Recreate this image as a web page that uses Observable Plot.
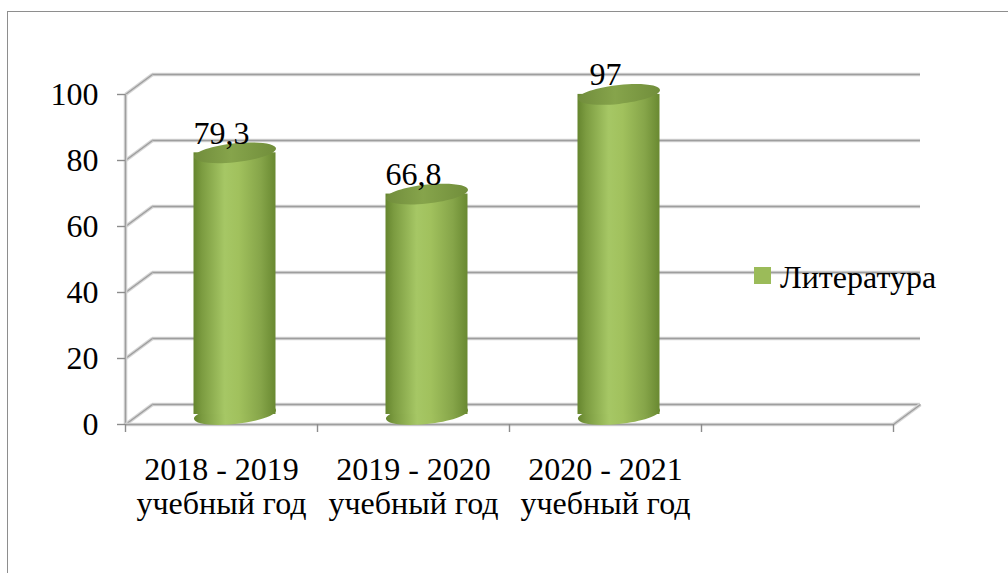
<!DOCTYPE html>
<html>
<head>
<meta charset="utf-8">
<script src="https://cdn.jsdelivr.net/npm/d3@7"></script>
<script src="https://cdn.jsdelivr.net/npm/@observablehq/plot@0.6"></script>
<style>
  html, body { margin: 0; padding: 0; background: #fff; overflow: hidden; width: 1008px; height: 573px; }
  #wrap { position: relative; width: 1008px; height: 573px; }
  #border { position: absolute; left: 7px; top: 11px; width: 1300px; height: 900px; border: 1.4px solid #8e8e8e; box-sizing: border-box; }
  #chart { position: absolute; left: 0; top: 0; }
  #legend { position: absolute; left: 754px; top: 261px; font-size: 32px; line-height: 1; white-space: nowrap; color: #000; }
  #legend .sw { position: absolute; left: 0; top: 6px; width: 17px; height: 17px; background: #9bbb59; }
  #legend .lb { position: absolute; left: 26px; top: 0; }
</style>
</head>
<body>
<div id="wrap">
  <div id="border"></div>
  <div id="chart"></div>
  <div id="legend" style="font-family:'Liberation Serif',serif"><span class="sw"></span><span class="lb" id="legendLabel" style="font-family:'Liberation Serif',serif"></span></div>
</div>
<script>
// ---- data ----
const categories = ["2018 - 2019\nучебный год", "2019 - 2020\nучебный год", "2020 - 2021\nучебный год", ""];
const values = [79.3, 66.8, 97];
const valueLabels = ["79,3", "66,8", "97"];
const yTicks = [0, 20, 40, 60, 80, 100];
const seriesName = "Литература";

const rows = values.map((v, i) => ({slot: i, cat: categories[i], value: v, label: valueLabels[i]}));

// ---- 3D styling ----
const DX = 27, DY = -20;       // depth offset of the back wall
const M = -0.105;              // perspective tilt of cylinder faces
const RX = 41, RY = 9.5;       // cylinder face radii (px)
const FONT = "'Liberation Serif', serif";
const FS = 32;

function shearedEllipse(rx, ry, m) {
  const k = 0.5522847498;
  const P = (x, y) => [x, y + m * x];
  const segs = [
    [[rx, k * ry], [k * rx, ry], [0, ry]],
    [[-k * rx, ry], [-rx, k * ry], [-rx, 0]],
    [[-rx, -k * ry], [-k * rx, -ry], [0, -ry]],
    [[k * rx, -ry], [rx, -k * ry], [rx, 0]]
  ];
  return {
    draw(ctx) {
      ctx.moveTo(...P(rx, 0));
      for (const [a, b, c] of segs) ctx.bezierCurveTo(...P(...a), ...P(...b), ...P(...c));
      ctx.closePath();
    }
  };
}
const ellipse = shearedEllipse(RX, RY, M);
const diagonal = {draw(ctx) { ctx.moveTo(0, 0); ctx.lineTo(DX, DY); }};

const shadowed = (make) => [
  make({stroke: "#d6d6d6", strokeWidth: 3.6}),
  make({stroke: "#9e9e9e", strokeWidth: 1.4})
];

const plot = Plot.plot({
  width: 1008,
  height: 573,
  marginLeft: 125,
  marginRight: 115,
  marginTop: 94,
  marginBottom: 149,
  style: `font-family: ${FONT}; font-size: ${FS}px; background: transparent; color: #000; overflow: visible;`,
  x: {type: "linear", domain: [0, categories.length]},
  y: {domain: [0, 100]},
  marks: [
    // back wall gridlines
    ...shadowed(s => Plot.ruleY(yTicks, {y: d => d, dx: DX, dy: DY, ...s})),
    // side wall diagonals
    ...shadowed(s => Plot.dot(yTicks, {y: d => d, frameAnchor: "left", symbol: diagonal, fill: "none", ...s})),
    // floor right diagonal
    ...shadowed(s => Plot.dot([0], {y: d => d, frameAnchor: "right", symbol: diagonal, fill: "none", ...s})),
    // front axis line and floor front edge
    ...shadowed(s => Plot.ruleX([0], s)),
    ...shadowed(s => Plot.ruleY([0], s)),
    Plot.axisY({ticks: yTicks, tickSize: 8, tickPadding: 19, fontSize: FS, fontFamily: FONT, stroke: "#8c8c8c", strokeWidth: 1.4, label: null}),
    Plot.axisX({ticks: d3.range(categories.length + 1), tickSize: 8, tickFormat: () => "", stroke: "#8c8c8c", strokeWidth: 1.4, label: null}),
    Plot.text(categories, {x: (d, i) => i + 0.5, frameAnchor: "bottom", text: d => d, lineAnchor: "top", dy: 31, fontSize: FS, fontFamily: FONT, lineHeight: 1.06, fill: "#000"}),
    // cylinders
    Plot.dot(rows, {x: d => d.slot + 0.5, y: 0, dx: DX / 2, dy: DY / 2, symbol: ellipse, fill: "url(#cylBody)"}),
    Plot.rect(rows, {x1: "slot", x2: d => d.slot + 1, y1: 0, y2: "value", insetLeft: 55, insetRight: 55, dx: DX / 2, dy: DY / 2, fill: "url(#cylBody)", ariaLabel: "cylinder-body"}),
    Plot.dot(rows, {x: d => d.slot + 0.5, y: "value", dx: DX / 2, dy: DY / 2, symbol: ellipse, fill: "url(#cylTop)"}),
    // value labels
    Plot.text(rows, {x: d => d.slot + 0.5, y: "value", text: "label", lineAnchor: "bottom", dy: -19, fontSize: FS, fontFamily: FONT, fill: "#000"})
  ]
});

// gradients
const defs = d3.select(plot).insert("defs", ":first-child");
function grad(id, stops) {
  const g = defs.append("linearGradient").attr("id", id)
    .attr("x1", 0).attr("y1", 0).attr("x2", 1).attr("y2", 0);
  for (const [o, c] of stops) g.append("stop").attr("offset", o).attr("stop-color", c);
}
grad("cylBody", [[0, "#65852e"], [0.1, "#7b9b40"], [0.38, "#a6c765"], [0.55, "#a1c15d"], [0.82, "#86a549"], [1, "#698931"]]);
grad("cylTop", [[0, "#718d3c"], [0.45, "#86a44b"], [1, "#718e3b"]]);

// tilt the cylinder bodies to follow the face ellipses
d3.select(plot).selectAll('g[aria-label="cylinder-body"] rect').each(function () {
  const x = +this.getAttribute("x"), w = +this.getAttribute("width");
  const cx = x + w / 2;
  this.setAttribute("transform", `matrix(1 ${M} 0 1 0 ${-M * cx})`);
});

document.getElementById("chart").appendChild(plot);
document.getElementById("legendLabel").textContent = seriesName;
</script>
</body>
</html>
